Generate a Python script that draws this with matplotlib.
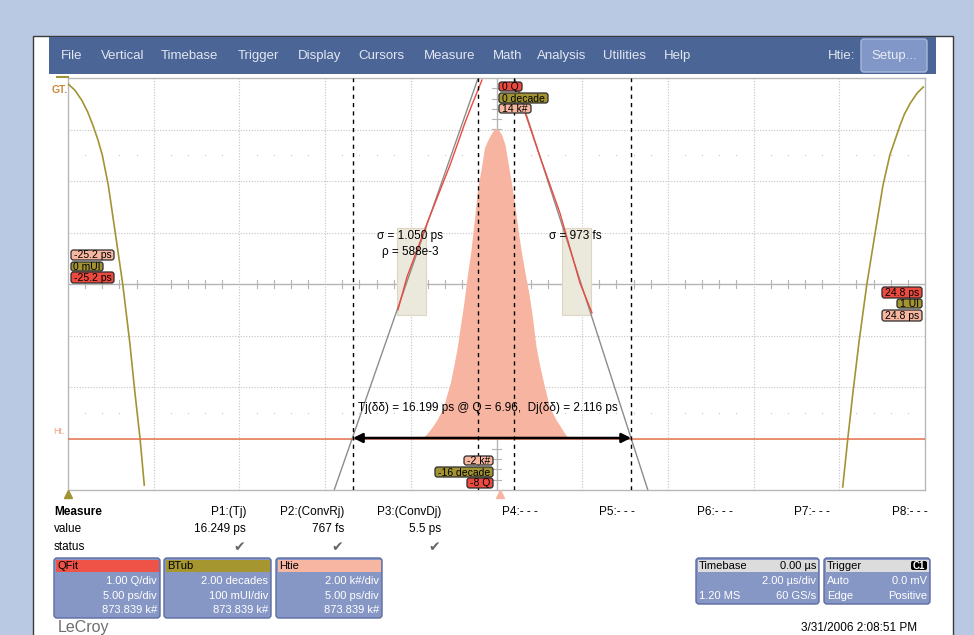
import numpy as np
import matplotlib.pyplot as plt
from matplotlib.patches import Rectangle, FancyBboxPatch

plt.rcParams['font.family'] = ['Liberation Sans', 'DejaVu Sans']

# ---- data ----
# bathtub (BTub): UI vs log10(BER) in decades
bt_left_ui = [0.000, 0.008, 0.016, 0.023, 0.029, 0.035, 0.040, 0.047, 0.055,
              0.064, 0.072, 0.078, 0.084, 0.089]
bt_left_dec = [-0.23, -0.47, -0.86, -1.32, -1.83, -2.41, -2.99, -4.16, -5.98,
               -8.04, -10.25, -12.19, -13.98, -15.81]
bt_right_ui = [0.998, 0.991, 0.983, 0.976, 0.971, 0.965, 0.959, 0.951, 0.942,
               0.932, 0.923, 0.916, 0.910, 0.904]
bt_right_dec = [-0.35, -0.58, -0.97, -1.40, -1.83, -2.41, -2.99, -4.16, -5.98,
                -8.04, -10.25, -12.19, -13.98, -15.88]

# TIE histogram (Htie): bin centres in ps, counts in k#
hist_ps = [-4.5, -4.3, -4.1, -3.9, -3.7, -3.5, -3.3, -3.1, -2.9, -2.7, -2.5, -2.3,
           -2.1, -1.9, -1.7, -1.5, -1.3, -1.1, -0.9, -0.7, -0.5, -0.3, -0.1,
           0.1, 0.3, 0.5, 0.7, 0.9, 1.1, 1.3, 1.5, 1.7, 1.9, 2.1,
           2.3, 2.5, 2.7, 2.9, 3.1, 3.3, 3.5, 3.7, 3.9, 4.1, 4.3, 4.5]
hist_k = [0.0, 0.05, 0.15, 0.32, 0.50, 0.70, 0.95, 1.20, 1.70, 2.15, 2.80, 3.50,
          4.40, 5.30, 6.35, 7.25, 8.45, 9.70, 10.45, 11.30, 11.60, 11.85, 12.05,
          12.00, 11.80, 11.40, 10.60, 9.80, 8.90, 7.90, 7.05, 6.30, 5.60, 4.70,
          3.60, 2.90, 2.30, 1.75, 1.20, 0.95, 0.70, 0.50, 0.28, 0.08, 0.02, 0.0]

# Q-scale (QFit): measured points and linear fits, ps vs Q
qred_left_ps = [-5.75, -5.22, -4.05, -2.71, -1.84, -1.43, -0.85]
qred_left_q = [-4.50, -3.86, -2.82, -1.69, -0.87, -0.52, -0.04]
qred_right_ps = [1.25, 1.55, 2.54, 3.70, 4.87, 5.57]
qred_right_q = [-0.23, -0.56, -1.53, -2.62, -3.98, -4.56]
qfit_left_ps = [-1.07, -9.47]
qfit_right_ps = [1.05, 8.83]
qfit_q = [0, -8]
fit_box_left = (-5.80, -4.11)
fit_box_right = (3.82, 5.51)
fit_box_q = (-4.60, -2.91)
cursor_ps = [-8.37, -1.08, 1.02, 7.85]
q_level = -6.99

menu_items = ['File', 'Vertical', 'Timebase', 'Trigger', 'Display', 'Cursors',
              'Measure', 'Math', 'Analysis', 'Utilities', 'Help']
menu_x = [61, 101, 161, 238, 298, 358, 424, 493, 537, 603, 664]

meas_names = ['P1:(Tj)', 'P2:(ConvRj)', 'P3:(ConvDj)']
meas_values = ['16.249 ps', '767 fs', '5.5 ps']
meas_x = [246, 344, 441]
empty_names = ['P4:- - -', 'P5:- - -', 'P6:- - -', 'P7:- - -', 'P8:- - -']
empty_x = [502, 599, 697, 794, 892]

RED = '#ec4a3e'
OLIVE = '#a29433'
PINK = '#f6b6a0'
BOX = '#8797c5'

fig = plt.figure(figsize=(9.74, 6.35), dpi=100)
fig.patch.set_facecolor('#b9c9e3')

bg = fig.add_axes([0, 0, 1, 1])
bg.set_xlim(0, 974)
bg.set_ylim(635, 0)
bg.axis('off')

bg.add_patch(Rectangle((33, 36), 920, 620, fc='white', ec='#3a3a3a', lw=1))
bg.add_patch(Rectangle((49, 37), 887, 37, fc='#4b6597', ec='none'))
bg.add_patch(FancyBboxPatch((861, 39), 66, 33, boxstyle='round,pad=0,rounding_size=3',
                            fc='#8097c7', ec='#a9b9dc', lw=1))
for t, x in zip(menu_items, menu_x):
    bg.text(x, 56, t, color='#e2e7f1', fontsize=9.5, va='center')
bg.text(828, 56, 'Htie:', color='#e2e7f1', fontsize=9.5, va='center')
bg.text(894, 56, 'Setup...', color='#e8ecf4', fontsize=9.5, va='center', ha='center')

# ---- plotting area ----
pos = [68 / 974, 1 - 490 / 635, 857 / 974, 412 / 635]
ax = fig.add_axes(pos)
ax.set_xlim(-25, 25)
ax.set_ylim(-8, 0)
ax.set_facecolor('white')
for s in ax.spines.values():
    s.set_color('#b8b8b8')
    s.set_linewidth(1)
ax.set_xticks([])
ax.set_yticks([])

for x in range(-20, 25, 5):
    if x != 0:
        ax.axvline(x, color='#c4c4c4', lw=0.8, ls=(0, (1, 1.5)), zorder=0)
for y in range(-7, 0):
    if y != -4:
        ax.axhline(y, color='#c4c4c4', lw=0.8, ls=(0, (1, 1.5)), zorder=0)
ax.axhline(-4, color='#b4b4b4', lw=1, zorder=0.5)
ax.axvline(0, color='#b4b4b4', lw=1, zorder=0.5)
tx = [v for v in np.arange(-24, 25, 1.0) if v % 5 != 0]
for v in tx:
    ax.plot([v, v], [-4.07, -3.93], color='#b4b4b4', lw=0.8, zorder=0.5)
    ax.plot([v], [-1.5], marker='s', ms=0.8, mew=0, color='#c8c8c8', zorder=0.5)
    ax.plot([v], [-6.5], marker='s', ms=0.8, mew=0, color='#c8c8c8', zorder=0.5)
for v in np.arange(-7.8, 0, 0.2):
    ax.plot([-0.25, 0.25], [v, v], color='#b4b4b4', lw=0.8, zorder=0.5)

ax_bt = fig.add_axes(pos, facecolor='none')
ax_bt.set_xlim(0, 1)
ax_bt.set_ylim(-16, 0)
ax_bt.axis('off')
ax_h = fig.add_axes(pos, facecolor='none')
ax_h.set_xlim(-25, 25)
ax_h.set_ylim(-2, 14)
ax_h.axis('off')
ax_q = fig.add_axes(pos, facecolor='none')
ax_q.set_xlim(-25, 25)
ax_q.set_ylim(-8, 0)
ax_q.axis('off')

ax_bt.plot(bt_left_ui, bt_left_dec, color=OLIVE, lw=1.2)
ax_bt.plot(bt_right_ui, bt_right_dec, color=OLIVE, lw=1.2)

ax_h.fill_between(hist_ps, 0, hist_k, color='#f7b4a0', lw=0, zorder=1)
ax_h.axhline(0, color='#e8744e', lw=1.1, zorder=2)

for (a, b) in (fit_box_left, fit_box_right):
    ax_q.add_patch(Rectangle((a, fit_box_q[0]), b - a, fit_box_q[1] - fit_box_q[0],
                             fc='#ebe8dc', ec='#dcd6c2', lw=0.8, zorder=1))
ax_q.plot(qfit_left_ps, qfit_q, color='#8c8c8c', lw=1, zorder=2)
ax_q.plot(qfit_right_ps, qfit_q, color='#8c8c8c', lw=1, zorder=2)
ax_q.plot(qred_left_ps, qred_left_q, color=RED, lw=1, zorder=3)
ax_q.plot(qred_right_ps, qred_right_q, color=RED, lw=1, zorder=3)
for c in cursor_ps:
    ax_q.axvline(c, color='black', lw=1, ls=(0, (3, 3)), zorder=4)
ax_q.annotate('', xy=(cursor_ps[0], q_level), xytext=(cursor_ps[-1], q_level),
              arrowprops=dict(arrowstyle='<|-|>', color='black', lw=1.8,
                              mutation_scale=14, shrinkA=0, shrinkB=0), zorder=5)
ax_q.text(-5.05, -3.07, '\u03c3 = 1.050 ps', ha='center', va='center', fontsize=8.5, zorder=6)
ax_q.text(-5.05, -3.38, '\u03c1 = 588e-3', ha='center', va='center', fontsize=8.5, zorder=6)
ax_q.text(4.61, -3.07, '\u03c3 = 973 fs', ha='center', va='center', fontsize=8.5, zorder=6)
ax_q.text(-0.53, -6.41, 'Tj(\u03b4\u03b4) = 16.199 ps @ Q = 6.96,  Dj(\u03b4\u03b4) = 2.116 ps',
          ha='center', va='center', fontsize=8.5, zorder=6)

# ---- overlay: tags, table, boxes ----
ov = fig.add_axes([0, 0, 1, 1], facecolor='none')
ov.set_xlim(0, 974)
ov.set_ylim(635, 0)
ov.axis('off')


def tag(x0, x1, y0, y1, txt, fc):
    ov.add_patch(FancyBboxPatch((x0, y0), x1 - x0, y1 - y0,
                                boxstyle='round,pad=0,rounding_size=2.5',
                                fc=fc, ec='#2b2b2b', lw=0.9))
    ov.text((x0 + x1) / 2, (y0 + y1) / 2 + 0.5, txt, ha='center', va='center', fontsize=7.5)


tag(499, 522, 82, 91, '0 Q', RED)
tag(499, 548, 93, 103, '0 decade', OLIVE)
tag(499, 531, 104, 113, '14 k#', PINK)
tag(464, 493, 456, 465, '-2 k#', PINK)
tag(435, 493, 467, 477, '-16 decade', OLIVE)
tag(467, 493, 478, 488, '-8 Q', RED)
tag(71, 114, 250, 260, '-25.2 ps', PINK)
tag(71, 103, 262, 271, '0 mUI', OLIVE)
tag(71, 114, 272, 283, '-25.2 ps', RED)
tag(882, 922, 287, 298, '24.8 ps', RED)
tag(897, 922, 299, 308, '1 UI', OLIVE)
tag(882, 922, 310, 321, '24.8 ps', PINK)

ov.text(52, 90, 'GT.', color='#c98a3c', fontsize=7.5, fontweight='bold', va='center')
ov.plot([57, 68], [77, 77], color=OLIVE, lw=1.5)
ov.text(53, 432, 'Ht.', color='#f0a080', fontsize=6.5, va='center')
ov.plot([68], [494], marker='^', ms=6, color=OLIVE)
ov.plot([500], [494], marker='^', ms=6, color='#f7b4a0')

# measurement table
ov.text(54, 512, 'Measure', fontsize=8.5, fontweight='bold', va='center')
ov.text(54, 529, 'value', fontsize=8.5, va='center')
ov.text(54, 547, 'status', fontsize=8.5, va='center')
for n, v, x in zip(meas_names, meas_values, meas_x):
    ov.text(x, 512, n, fontsize=8.5, ha='right', va='center')
    ov.text(x, 529, v, fontsize=8.5, ha='right', va='center')
    ov.text(x - 7, 547, '\u2714', fontsize=10, ha='center', va='center', color='#666666',
            family=['DejaVu Sans'])
for n, x in zip(empty_names, empty_x):
    ov.text(x, 512, n, fontsize=8.5, va='center')


def panel(x0, x1, y0, y1, hdr, title, lines, title_right=None, hdr_txt='black'):
    ov.add_patch(FancyBboxPatch((x0, y0), x1 - x0, y1 - y0,
                                boxstyle='round,pad=0,rounding_size=3',
                                fc=BOX, ec='#5c6ba3', lw=1))
    ov.add_patch(Rectangle((x0 + 1.5, y0 + 1.5), x1 - x0 - 3, 12.5, fc=hdr, ec='none'))
    ov.text(x0 + 3, y0 + 8, title, fontsize=8, va='center', color=hdr_txt)
    if title_right:
        ov.text(x1 - 3, y0 + 8, title_right, fontsize=8, va='center', ha='right')
    for y, left, right in lines:
        if left:
            ov.text(x0 + 3, y, left, fontsize=8, va='center', color='white')
        if right:
            ov.text(x1 - 3, y, right, fontsize=8, va='center', ha='right', color='white')


panel(54, 160, 558, 618, '#ef5348', 'QFit',
      [(581, None, '1.00 Q/div'), (596, None, '5.00 ps/div'), (610, None, '873.839 k#')])
panel(164, 271, 558, 618, '#a5962f', 'BTub',
      [(581, None, '2.00 decades'), (596, None, '100 mUI/div'), (610, None, '873.839 k#')])
panel(276, 382, 558, 618, '#f7b6a1', 'Htie',
      [(581, None, '2.00 k#/div'), (596, None, '5.00 ps/div'), (610, None, '873.839 k#')])
panel(696, 819, 558, 604, '#dcdcdc', 'Timebase',
      [(581, None, '2.00 \u00b5s/div'), (596, '1.20 MS', '60 GS/s')], title_right='0.00 \u00b5s')
panel(824, 930, 558, 604, '#dcdcdc', 'Trigger',
      [(581, 'Auto', '0.0 mV'), (596, 'Edge', 'Positive')])
ov.add_patch(FancyBboxPatch((911, 561), 16, 9, boxstyle='round,pad=0,rounding_size=2',
                            fc='black', ec='none'))
ov.text(919, 566, 'C1', color='white', fontsize=7, fontweight='bold', ha='center', va='center')

ov.text(917, 628, '3/31/2006 2:08:51 PM', fontsize=8.5, ha='right', va='center')
ov.text(58, 620, 'LeCroy', fontsize=11.5, color='#6e6e6e', va='top')

fig.savefig('out.png', dpi=100, facecolor=fig.get_facecolor())
